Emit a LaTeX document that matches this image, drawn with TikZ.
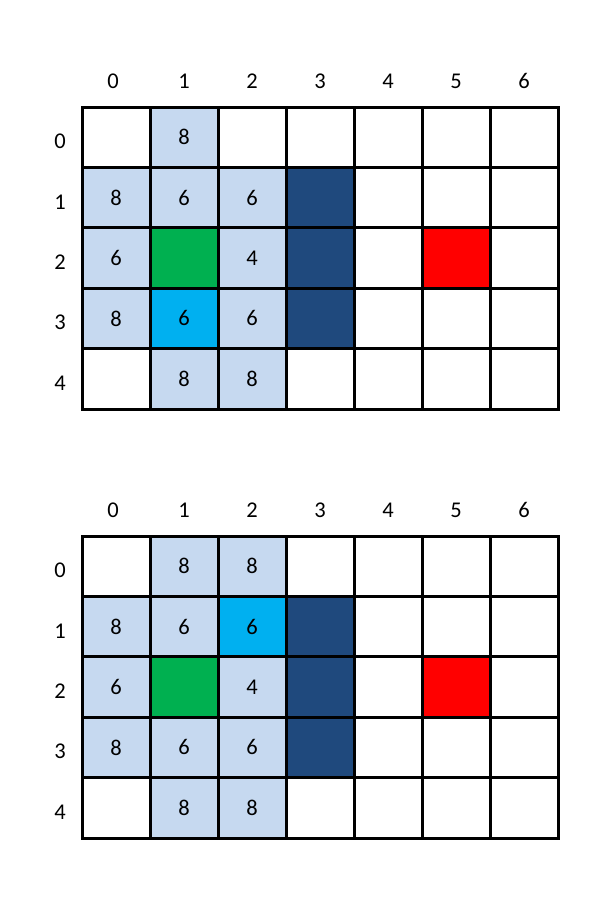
\documentclass[tikz,border=0pt]{standalone}
\usepackage{fontspec}
\setmainfont{Carlito}
\definecolor{lb}{HTML}{C6D9F0}
\definecolor{nv}{HTML}{1F497D}
\definecolor{gr}{HTML}{00B050}
\definecolor{cy}{HTML}{00B0F0}
\definecolor{rd}{HTML}{FF0000}
\tikzset{
  cellbox/.style={draw=black, line width=3pt, minimum width=68pt, minimum height=60.4pt, inner sep=0pt, anchor=center, font=\fontsize{22.5}{26}\selectfont},
  axislabel/.style={inner sep=0pt, anchor=center, font=\fontsize{22.5}{26}\selectfont}
}
\begin{document}
\begin{tikzpicture}[x=1pt, y=-1pt]
\useasboundingbox[fill=white] (0,0) rectangle (610,899);
% grid t (top) origin y=107, grid b (bottom) origin y=536
\foreach \g/\oy in {t/107, b/536} {
  \foreach \c in {0,...,6} {
    \pgfmathsetmacro{\lx}{ifthenelse(\c==0,113,116+68*\c)}
    \node[axislabel] (\g-col-\c) at (\lx, \oy-26) {\c};
  }
  \foreach \r in {0,...,4} {
    \node[axislabel] (\g-row-\r) at (60, \oy+34.5+60.4*\r) {\r};
  }
}
\foreach \g/\oy/\r/\c/\f/\t in {
 t/107/0/0/white/{}, t/107/0/1/lb/8, t/107/0/2/white/{}, t/107/0/3/white/{}, t/107/0/4/white/{}, t/107/0/5/white/{}, t/107/0/6/white/{},
 t/107/1/0/lb/8, t/107/1/1/lb/6, t/107/1/2/lb/6, t/107/1/3/nv/{}, t/107/1/4/white/{}, t/107/1/5/white/{}, t/107/1/6/white/{},
 t/107/2/0/lb/6, t/107/2/1/gr/{}, t/107/2/2/lb/4, t/107/2/3/nv/{}, t/107/2/4/white/{}, t/107/2/5/rd/{}, t/107/2/6/white/{},
 t/107/3/0/lb/8, t/107/3/1/cy/6, t/107/3/2/lb/6, t/107/3/3/nv/{}, t/107/3/4/white/{}, t/107/3/5/white/{}, t/107/3/6/white/{},
 t/107/4/0/white/{}, t/107/4/1/lb/8, t/107/4/2/lb/8, t/107/4/3/white/{}, t/107/4/4/white/{}, t/107/4/5/white/{}, t/107/4/6/white/{},
 b/536/0/0/white/{}, b/536/0/1/lb/8, b/536/0/2/lb/8, b/536/0/3/white/{}, b/536/0/4/white/{}, b/536/0/5/white/{}, b/536/0/6/white/{},
 b/536/1/0/lb/8, b/536/1/1/lb/6, b/536/1/2/cy/6, b/536/1/3/nv/{}, b/536/1/4/white/{}, b/536/1/5/white/{}, b/536/1/6/white/{},
 b/536/2/0/lb/6, b/536/2/1/gr/{}, b/536/2/2/lb/4, b/536/2/3/nv/{}, b/536/2/4/white/{}, b/536/2/5/rd/{}, b/536/2/6/white/{},
 b/536/3/0/lb/8, b/536/3/1/lb/6, b/536/3/2/lb/6, b/536/3/3/nv/{}, b/536/3/4/white/{}, b/536/3/5/white/{}, b/536/3/6/white/{},
 b/536/4/0/white/{}, b/536/4/1/lb/8, b/536/4/2/lb/8, b/536/4/3/white/{}, b/536/4/4/white/{}, b/536/4/5/white/{}, b/536/4/6/white/{}
} {
  \node[cellbox, fill=\f] (\g-\r-\c) at (116+68*\c, \oy+30.2+60.4*\r) {\t};
}
\end{tikzpicture}
\end{document}
